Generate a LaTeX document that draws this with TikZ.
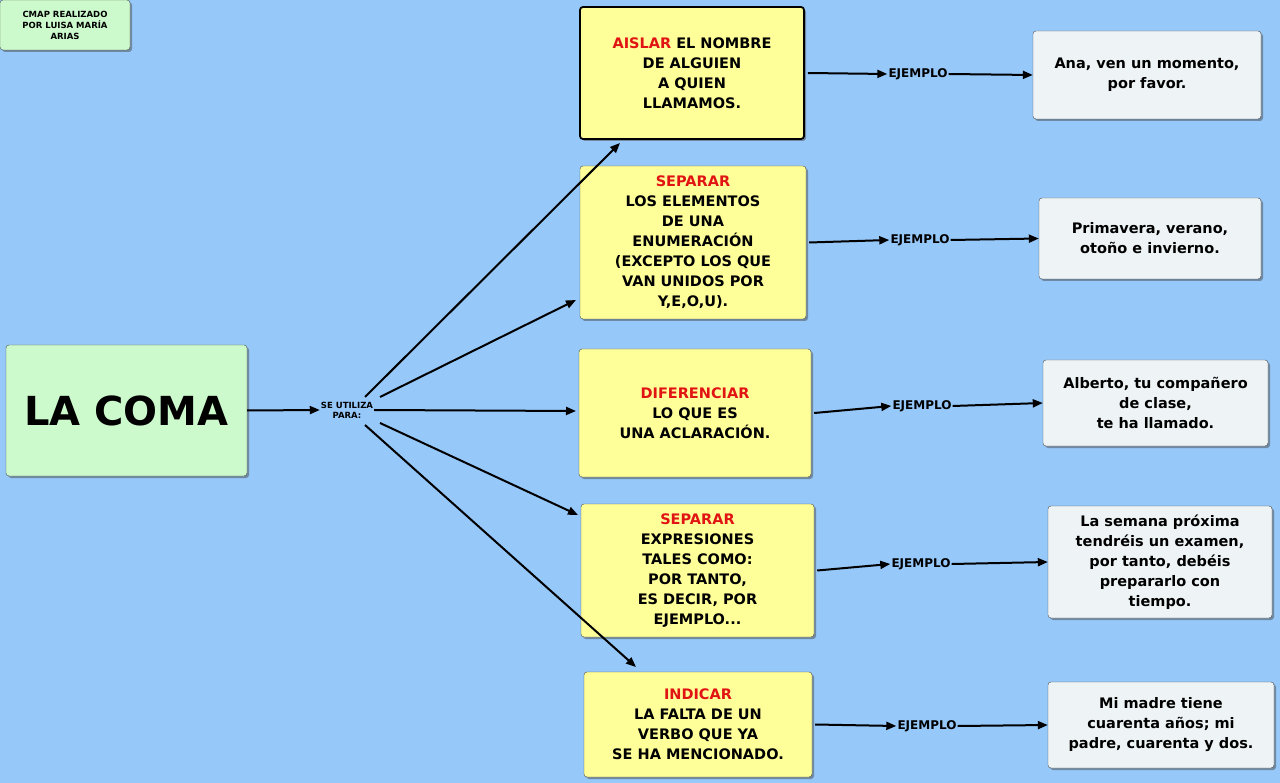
\documentclass[tikz,border=0pt]{standalone}
\usepackage{fontspec}
\setmainfont{DejaVu Sans}
\usetikzlibrary{arrows.meta,shadows}
\definecolor{bg}{RGB}{150,200,250}
\definecolor{yel}{RGB}{255,255,153}
\definecolor{grn}{RGB}{204,250,204}
\definecolor{exb}{RGB}{238,244,246}
\definecolor{rd}{RGB}{225,20,20}
\begin{document}
\begin{tikzpicture}[x=1pt,y=-1pt,
 box/.style={draw=black!70,rounded corners=3pt,align=center,font=\bfseries\fontsize{14.5}{20}\selectfont,
   drop shadow={shadow xshift=2pt,shadow yshift=-2pt,fill=black!70},inner sep=0pt},
 yb/.style={box,fill=yel},
 eb/.style={box,fill=exb},
 lab/.style={font=\bfseries\fontsize{12}{14}\selectfont,inner sep=1pt},
 ar/.style={-{Triangle[length=10pt,width=8pt]},line width=2pt}]
\fill[bg] (0,0) rectangle (1280,783);
\useasboundingbox (0,0) rectangle (1280,783);
\node[box,fill=grn,minimum width=130,minimum height=50,font=\bfseries\fontsize{8.5}{11}\selectfont] (cred) at (65,25) {CMAP REALIZADO\\POR LUISA MARÍA\\ARIAS};
\node[box,fill=grn,minimum width=241,minimum height=131,font=\bfseries\fontsize{40}{44}\selectfont] (coma) at (126.5,410.5) {LA COMA};
\node[font=\bfseries\fontsize{8.5}{10}\selectfont,align=center,inner sep=1pt] (se) at (347,410) {SE UTILIZA\\PARA:};
\node[yb,draw=black,line width=1.8pt,minimum width=224,minimum height=132] (b1) at (692,73) {\textcolor{rd}{AISLAR} EL NOMBRE\\DE ALGUIEN\\A QUIEN\\LLAMAMOS.};
\node[yb,minimum width=226,minimum height=153] (b2) at (693,242.5) {\textcolor{rd}{SEPARAR}\\LOS ELEMENTOS\\DE UNA\\ENUMERACIÓN\\(EXCEPTO LOS QUE\\VAN UNIDOS POR\\Y,E,O,U).};
\node[yb,minimum width=232,minimum height=128] (b3) at (695,413) {\textcolor{rd}{DIFERENCIAR}\\LO QUE ES\\UNA ACLARACIÓN.};
\node[yb,minimum width=233,minimum height=133] (b4) at (697.5,570.5) {\textcolor{rd}{SEPARAR}\\EXPRESIONES\\TALES COMO:\\POR TANTO,\\ES DECIR, POR\\EJEMPLO...};
\node[yb,minimum width=228,minimum height=105] (b5) at (698,724.5) {\textcolor{rd}{INDICAR}\\LA FALTA DE UN\\VERBO QUE YA\\SE HA MENCIONADO.};
\node[lab] (e1) at (918,74) {EJEMPLO};
\node[lab] (e2) at (920,240) {EJEMPLO};
\node[lab] (e3) at (922,406) {EJEMPLO};
\node[lab] (e4) at (921,564) {EJEMPLO};
\node[lab] (e5) at (927,726) {EJEMPLO};
\node[eb,minimum width=228,minimum height=88] (x1) at (1147,75) {Ana, ven un momento,\\por favor.};
\node[eb,minimum width=222,minimum height=81] (x2) at (1150,238.5) {Primavera, verano,\\otoño e invierno.};
\node[eb,minimum width=225,minimum height=86] (x3) at (1155.5,403) {Alberto, tu compañero\\de clase,\\te ha llamado.};
\node[eb,minimum width=224,minimum height=112] (x4) at (1160,562) {La semana próxima\\tendréis un examen,\\ por tanto, debéis\\prepararlo  con\\tiempo.};
\node[eb,minimum width=226,minimum height=86] (x5) at (1161,725) {Mi madre tiene\\cuarenta años; mi\\padre, cuarenta y dos.};
\draw[ar] (coma.east) -- (se.west);
\draw[ar] (365,397) -- (620,143);
\draw[ar] (380,397) -- (576,300);
\draw[ar] (se.east) -- (576,411);
\draw[ar] (380,423) -- (578,515);
\draw[ar] (365,425) -- (636,667);
\foreach \i in {1,...,5}{
 \draw[ar] (b\i.east) ++(3,0) -- (e\i.west);
 \draw[ar] (e\i.east) -- (x\i.west);}
\end{tikzpicture}
\end{document}
